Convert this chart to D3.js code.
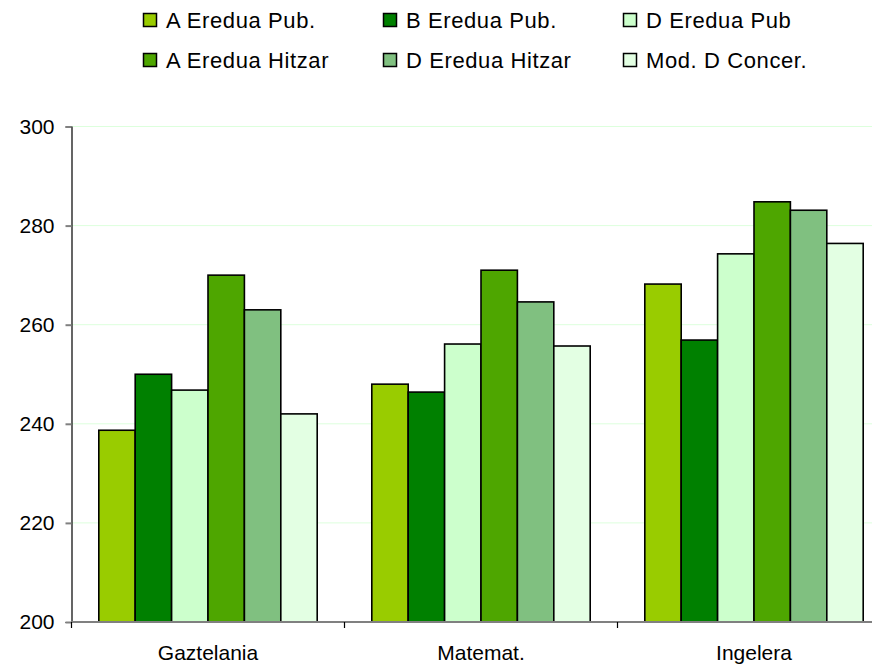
<!DOCTYPE html>
<html>
<head>
<meta charset="utf-8">
<script src="https://cdn.jsdelivr.net/npm/d3@7"></script>
<style>
  html, body { margin: 0; padding: 0; background: #fff; }
  svg { display: block; font-family: "Liberation Sans", Arial, sans-serif; }
</style>
</head>
<body>
<svg id="chart" width="872" height="664"></svg>
<script>
const categories = ["Gaztelania", "Matemat.", "Ingelera"];
const seriesNames = ["A Eredua Pub.", "B Eredua Pub.", "D Eredua Pub", "A Eredua Hitzar", "D Eredua Hitzar", "Mod. D Concer."];
const seriesColors = ["#99CC00", "#008000", "#CCFFCC", "#4EA600", "#80C080", "#E3FFE3"];
const aEreduaPub   = [238.7, 248.0, 268.2];
const bEreduaPub   = [250.0, 246.4, 256.9];
const dEreduaPub   = [246.8, 256.1, 274.3];
const aEreduaHitz  = [270.0, 271.0, 284.8];
const dEreduaHitz  = [263.0, 264.6, 283.1];
const modDConcer   = [242.0, 255.7, 276.4];
const seriesValues = [aEreduaPub, bEreduaPub, dEreduaPub, aEreduaHitz, dEreduaHitz, modDConcer];
const yTicks = [200, 220, 240, 260, 280, 300];

(function () {
const svg = d3.select("#chart");
const plotLeft = 71.5, plotTop = 126.5, plotBottom = 622, catW = 273;
const plotRight = plotLeft + categories.length * catW;

const x = d3.scaleBand().domain(categories).range([plotLeft, plotRight]).paddingInner(0.2).paddingOuter(0.1);
const xs = d3.scaleBand().domain(d3.range(seriesNames.length)).range([0, x.bandwidth()]);
const y = d3.scaleLinear().domain([200, 300]).range([plotBottom, plotTop]);

// gridlines
svg.append("g").selectAll("line").data(yTicks.filter(t => t > 200)).join("line")
  .attr("x1", plotLeft).attr("x2", plotRight)
  .attr("y1", d => y(d)).attr("y2", d => y(d))
  .attr("stroke", "#DDFFDD").attr("stroke-width", 1);

// bars
const groups = svg.append("g").selectAll("g").data(seriesValues).join("g")
  .attr("fill", (d, i) => seriesColors[i]);
groups.selectAll("rect").data((vals, si) => vals.map((v, ci) => ({ v, ci, si }))).join("rect")
  .attr("x", d => x(categories[d.ci]) + xs(d.si))
  .attr("y", d => y(d.v))
  .attr("width", xs.bandwidth())
  .attr("height", d => y(200) - y(d.v))
  .attr("stroke", "#000").attr("stroke-width", 1.6);

// y axis
const yAxis = svg.append("g").attr("transform", `translate(${plotLeft},0)`)
  .call(d3.axisLeft(y).tickValues(yTicks).tickSize(6).tickPadding(11));
yAxis.select(".domain").attr("stroke", "#000").attr("stroke-width", 1.2);
yAxis.selectAll(".tick line").attr("stroke", "#808080").attr("stroke-width", 2);
yAxis.selectAll(".tick text").attr("font-size", 21).attr("fill", "#000")
  .attr("font-family", "Liberation Sans, Arial, sans-serif");

// x axis
svg.append("line").attr("x1", plotLeft).attr("x2", plotRight)
  .attr("y1", plotBottom).attr("y2", plotBottom).attr("stroke", "#808080").attr("stroke-width", 2);
const bounds = d3.range(categories.length + 1).map(i => plotLeft + i * x.step());
svg.append("g").selectAll("line").data(bounds).join("line")
  .attr("x1", d => d).attr("x2", d => d).attr("y1", plotBottom).attr("y2", plotBottom + 6)
  .attr("stroke", "#000").attr("stroke-width", 1.2);
svg.append("g").selectAll("text").data(categories).join("text")
  .attr("x", d => x(d) + x.bandwidth() / 2).attr("y", 660)
  .attr("text-anchor", "middle").attr("font-size", 21).attr("fill", "#000")
  .text(d => d);

// legend
const legX = [143, 383, 623];
const legY = [20, 60];
const leg = svg.append("g").selectAll("g").data(seriesNames).join("g")
  .attr("transform", (d, i) => `translate(${legX[i % 3]},${legY[Math.floor(i / 3)]})`);
leg.append("rect").attr("x", 0.5).attr("y", -6.5).attr("width", 13).attr("height", 13)
  .attr("fill", (d, i) => seriesColors[i]).attr("stroke", "#000").attr("stroke-width", 1.5);
leg.append("text").attr("x", 23).attr("y", 7.5)
  .attr("font-size", 22).attr("letter-spacing", "0.6px").attr("fill", "#000")
  .text(d => d);
})();
</script>
</body>
</html>
